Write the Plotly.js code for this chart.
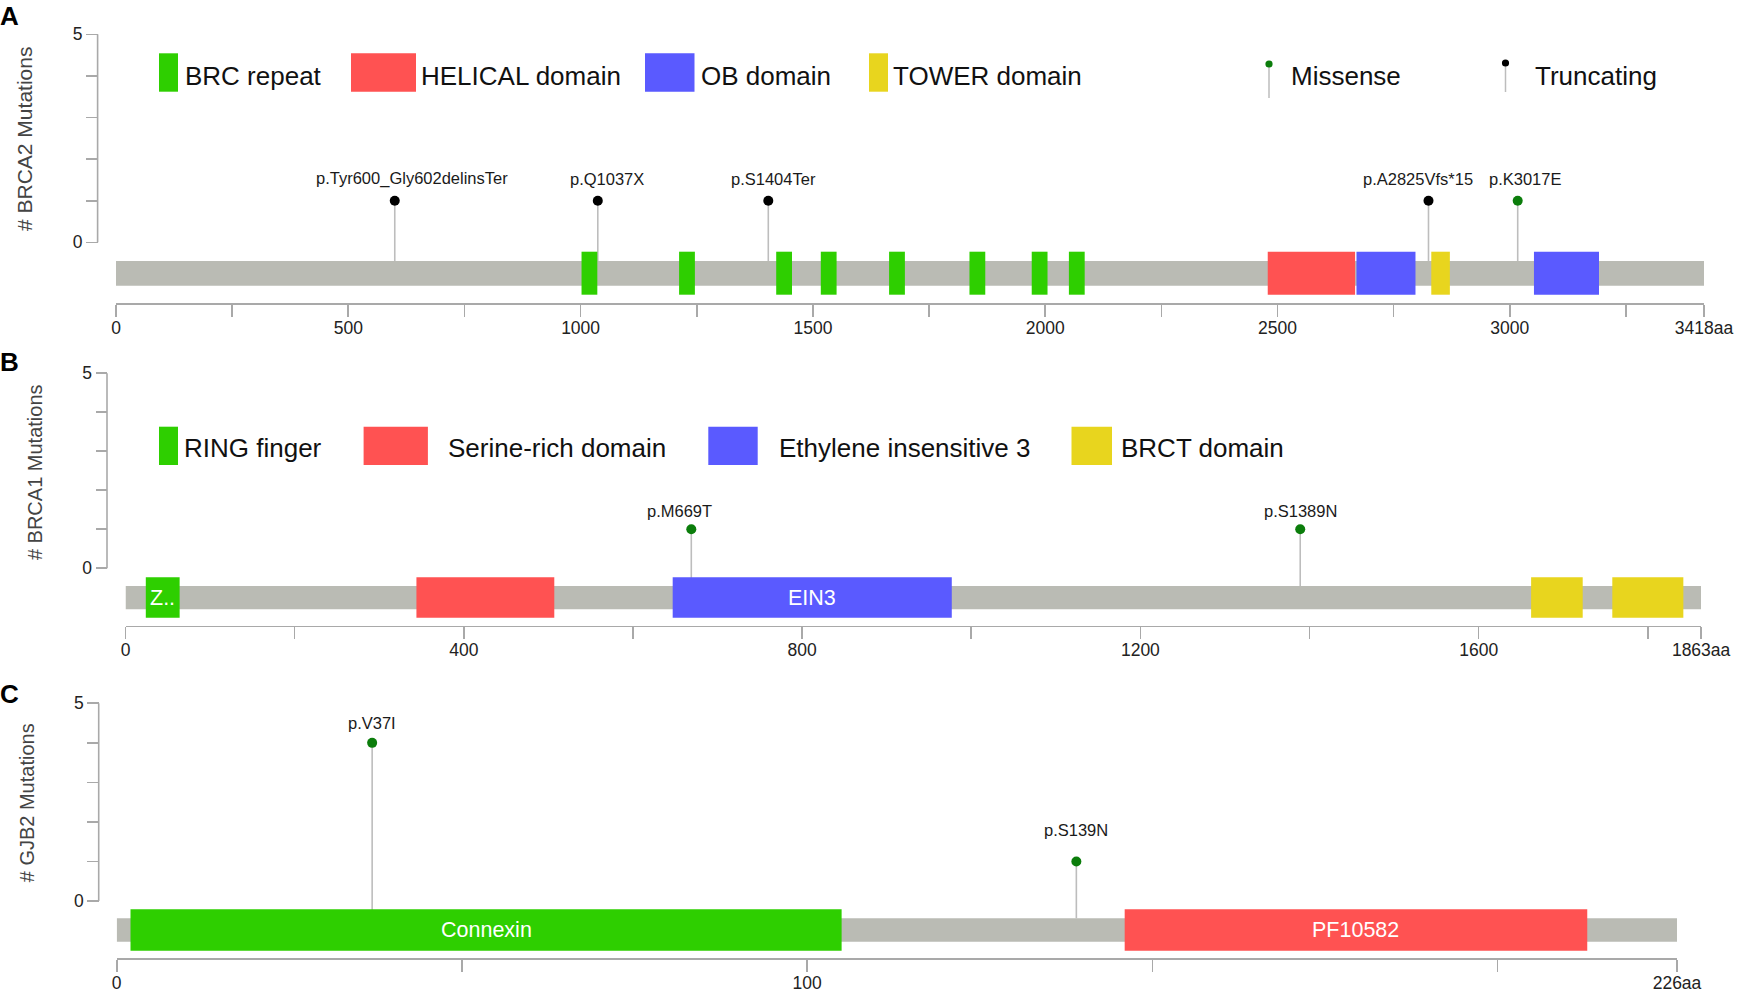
<!DOCTYPE html>
<html><head><meta charset="utf-8">
<script src="https://cdn.plot.ly/plotly-3.0.1.min.js"></script>
<style>html,body{margin:0;padding:0;background:#fff}#chart{width:1746px;height:997px}</style>
</head><body><div id="chart"></div>
<script>
// ================= DATA =================
// Panel A – BRCA2
const brca2Length = 3418;
const brca2DomainNames = ['BRC repeat','BRC repeat','BRC repeat','BRC repeat','BRC repeat','BRC repeat','BRC repeat','BRC repeat','HELICAL domain','OB domain','TOWER domain','OB domain'];
const brca2DomainStart = [1002,1212,1421,1517,1664,1837,1971,2051,2479,2670,2831,3052];
const brca2DomainEnd   = [1036,1246,1455,1551,1698,1871,2005,2085,2667,2797,2871,3192];
const brca2DomainText  = ['','','','','','','','','','','',''];
const brca2MutPos   = [600,1037,1404,2825,3017];
const brca2MutCount = [1,1,1,1,1];
const brca2MutLabel = ['p.Tyr600_Gly602delinsTer','p.Q1037X','p.S1404Ter','p.A2825Vfs*15','p.K3017E'];
const brca2MutType  = ['Truncating','Truncating','Truncating','Truncating','Missense'];
const brca2Legend   = ['BRC repeat','HELICAL domain','OB domain','TOWER domain'];
const brca2TickVals = [0,250,500,750,1000,1250,1500,1750,2000,2250,2500,2750,3000,3250,3418];
const brca2TickText = ['0','','500','','1000','','1500','','2000','','2500','','3000','','3418aa'];

// Panel B – BRCA1
const brca1Length = 1863;
const brca1DomainNames = ['RING finger','Serine-rich domain','Ethylene insensitive 3','BRCT domain','BRCT domain'];
const brca1DomainStart = [24,344,647,1662,1758];
const brca1DomainEnd   = [64,507,977,1723,1842];
const brca1DomainText  = ['Z..','','EIN3','',''];
const brca1MutPos   = [669,1389];
const brca1MutCount = [1,1];
const brca1MutLabel = ['p.M669T','p.S1389N'];
const brca1MutType  = ['Missense','Missense'];
const brca1Legend   = ['RING finger','Serine-rich domain','Ethylene insensitive 3','BRCT domain'];
const brca1TickVals = [0,200,400,600,800,1000,1200,1400,1600,1800,1863];
const brca1TickText = ['0','','400','','800','','1200','','1600','','1863aa'];

// Panel C – GJB2
const gjb2Length = 226;
const gjb2DomainNames = ['Connexin','PF10582'];
const gjb2DomainStart = [2,146];
const gjb2DomainEnd   = [105,213];
const gjb2DomainText  = ['Connexin','PF10582'];
const gjb2MutPos   = [37,139];
const gjb2MutCount = [4,1];
const gjb2MutLabel = ['p.V37I','p.S139N'];
const gjb2MutType  = ['Missense','Missense'];
const gjb2TickVals = [0,50,100,150,200,226];
const gjb2TickText = ['0','','100','','','226aa'];

const mutationTypes = ['Missense','Truncating'];
const countTickVals = [0,1,2,3,4,5];
const countTickText = ['0','','','','','5'];

// ================= STYLE / LAYOUT =================
const W = 1746, H = 997;
const FONT = '"Liberation Sans", Arial, Helvetica, sans-serif';
const domainColors = {
  'BRC repeat':'#2ecf00','HELICAL domain':'#ff5252','OB domain':'#5a5aff','TOWER domain':'#e8d51e',
  'RING finger':'#2ecf00','Serine-rich domain':'#ff5252','Ethylene insensitive 3':'#5a5aff','BRCT domain':'#e8d51e',
  'Connexin':'#2ecf00','PF10582':'#ff5252'
};
const typeColors = {Missense:'#0b7d0b', Truncating:'#000000'};
const AXIS_COL = '#a9a9a9';
const BACKBONE_COL = '#babbb4';
const STEM_COL = '#bdbdbd';
// label nudges in pixels (placement only)
const labelNudge = {
  'p.Tyr600_Gly602delinsTer':[17,2], 'p.Q1037X':[9,2], 'p.S1404Ter':[5,2],
  'p.A2825Vfs*15':[-10,2], 'p.K3017E':[7,2],
  'p.M669T':[-12,-2], 'p.S1389N':[0,-2],
  'p.V37I':[0,0], 'p.S139N':[0,11]
};

const panels = [
  {letter:'A', ytitle:'# BRCA2 Mutations', length:brca2Length, tv:brca2TickVals, tt:brca2TickText,
   dn:brca2DomainNames, ds:brca2DomainStart, de:brca2DomainEnd, dt:brca2DomainText,
   mp:brca2MutPos, mc:brca2MutCount, ml:brca2MutLabel, mt:brca2MutType, legend:brca2Legend,
   g:{y5:34.3, y0:242.3, top:28, bot:300, xl:116, xr:1704, xAxis:303.3, yAxis:97.6,
      bbT:261, bbB:285.7, dT:251.7, dB:294.7, letterY:16, titleX:25, titleY:139, titleSize:21},
   lg:{y0:53.3, y1:91.7, ty:76, items:[[159,178,183],[351,416,419],[645,694.5,699],[869,888,891]]}},
  {letter:'B', ytitle:'# BRCA1 Mutations', length:brca1Length, tv:brca1TickVals, tt:brca1TickText,
   dn:brca1DomainNames, ds:brca1DomainStart, de:brca1DomainEnd, dt:brca1DomainText,
   mp:brca1MutPos, mc:brca1MutCount, ml:brca1MutLabel, mt:brca1MutType, legend:brca1Legend,
   g:{y5:373.3, y0:568.3, top:367, bot:622, xl:125.5, xr:1701.1, xAxis:625.7, yAxis:107,
      bbT:586, bbB:609.3, dT:577.3, dB:617.7, letterY:362, titleX:34.4, titleY:471.7, titleSize:20},
   lg:{y0:426.7, y1:465, ty:448, items:[[159,178,182],[363.6,427.9,446],[708.3,757.7,777],[1071.5,1112,1119]]}},
  {letter:'C', ytitle:'# GJB2 Mutations', length:gjb2Length, tv:gjb2TickVals, tt:gjb2TickText,
   dn:gjb2DomainNames, ds:gjb2DomainStart, de:gjb2DomainEnd, dt:gjb2DomainText,
   mp:gjb2MutPos, mc:gjb2MutCount, ml:gjb2MutLabel, mt:gjb2MutType, legend:null,
   g:{y5:703.3, y0:901, top:697, bot:955, xl:116.7, xr:1677, xAxis:958.3, yAxis:98.7,
      bbT:918.3, bbB:941.7, dT:909.3, dB:950.7, letterY:694, titleX:26.8, titleY:802.5, titleSize:20},
   lg:null}
];

const mutLegend = {items:[{type:'Missense', x:1269, dotY:64, botY:98, tx:1289},
                          {type:'Truncating', x:1505.5, dotY:63, botY:92, tx:1533}], ty:76};

const px = x => x / W;
const py = y => 1 - y / H;

const data = [];
const shapes = [];
const annotations = [];
const layout = {
  width: W, height: H, autosize: false,
  margin: {l:0, r:0, t:0, b:0, pad:0},
  paper_bgcolor: '#fff', plot_bgcolor: 'rgba(0,0,0,0)',
  showlegend: false,
  font: {family: FONT, color: '#222'},
  hovermode: false
};

panels.forEach((p, i) => {
  const k = i + 1;
  const xr = k === 1 ? 'x' : 'x' + k;
  const yr = k === 1 ? 'y' : 'y' + k;
  const xKey = k === 1 ? 'xaxis' : 'xaxis' + k;
  const yKey = k === 1 ? 'yaxis' : 'yaxis' + k;
  const g = p.g;
  const unit = (g.y0 - g.y5) / 5;
  const v = pix => (g.y0 - pix) / unit;   // pixel row -> data value

  layout[xKey] = {
    domain: [px(g.xl), px(g.xr)], range: [0, p.length],
    anchor: 'free', position: py(g.xAxis),
    showline: true, linecolor: AXIS_COL, linewidth: 1.6,
    ticks: 'outside', ticklen: 12, tickwidth: 1.6, tickcolor: AXIS_COL,
    tickmode: 'array', tickvals: p.tv, ticktext: p.tt, ticklabelstandoff: -4,
    tickfont: {family: FONT, size: 17.5, color: '#222'},
    showgrid: false, zeroline: false, fixedrange: true
  };
  layout[yKey] = {
    domain: [py(g.bot), py(g.top)], range: [v(g.bot), v(g.top)],
    anchor: 'free', position: px(g.yAxis), side: 'left',
    showline: false, ticks: 'outside', ticklen: 11.5, tickwidth: 1.6, tickcolor: AXIS_COL,
    tickmode: 'array', tickvals: countTickVals, ticktext: countTickText,
    tickfont: {family: FONT, size: 17.5, color: '#222'},
    showgrid: false, zeroline: false, fixedrange: true
  };

  // y axis line from 0 to 5
  shapes.push({type:'line', xref:'paper', yref:yr, x0:px(g.yAxis), x1:px(g.yAxis),
               y0:countTickVals[0], y1:countTickVals[countTickVals.length - 1],
               line:{color:AXIS_COL, width:1.6}, layer:'below'});

  // protein backbone
  shapes.push({type:'rect', xref:xr, yref:yr, x0:0, x1:p.length, y0:v(g.bbB), y1:v(g.bbT),
               fillcolor:BACKBONE_COL, line:{width:0}, layer:'above'});
  // domains
  p.dn.forEach((name, j) => {
    shapes.push({type:'rect', xref:xr, yref:yr, x0:p.ds[j], x1:p.de[j], y0:v(g.dB), y1:v(g.dT),
                 fillcolor:domainColors[name], line:{width:0}, layer:'above'});
    if (p.dt[j]) {
      annotations.push({xref:xr, yref:yr, x:(p.ds[j] + p.de[j]) / 2, y:v((g.dT + g.dB) / 2),
        text:p.dt[j], showarrow:false, xanchor:'center', yanchor:'middle',
        font:{family:FONT, size:21.5, color:'#ffffff'}});
    }
  });

  // lollipop stems
  const sx = [], sy = [];
  p.mp.forEach((pos, j) => { sx.push(pos, pos, null); sy.push(v(g.bbT), p.mc[j], null); });
  data.push({type:'scatter', mode:'lines', x:sx, y:sy, xaxis:xr, yaxis:yr,
             line:{color:STEM_COL, width:1.6}, hoverinfo:'skip'});
  // lollipop heads by type
  mutationTypes.forEach(t => {
    const xs = [], ys = [];
    p.mp.forEach((pos, j) => { if (p.mt[j] === t) { xs.push(pos); ys.push(p.mc[j]); } });
    if (xs.length) data.push({type:'scatter', mode:'markers', x:xs, y:ys, xaxis:xr, yaxis:yr, name:t,
      marker:{color:typeColors[t], size:10, line:{width:0}}, hoverinfo:'skip'});
  });
  // lollipop labels
  p.mp.forEach((pos, j) => {
    const n = labelNudge[p.ml[j]] || [0, 0];
    annotations.push({xref:xr, yref:yr, x:pos, y:p.mc[j], text:p.ml[j], showarrow:false,
      xanchor:'center', yanchor:'bottom', yshift:9 + n[1], xshift:n[0],
      font:{family:FONT, size:16.5, color:'#1a1a1a'}});
  });

  // panel letter
  annotations.push({xref:'paper', yref:'paper', x:0, y:py(g.letterY), text:'<b>' + p.letter + '</b>',
    showarrow:false, xanchor:'left', yanchor:'middle', xshift:-2,
    font:{family:FONT, size:26, color:'#000'}});
  // y title
  annotations.push({xref:'paper', yref:'paper', x:px(g.titleX), y:py(g.titleY), text:p.ytitle,
    showarrow:false, textangle:-90, xanchor:'center', yanchor:'middle',
    font:{family:FONT, size:g.titleSize, color:'#444'}});

  // domain legend
  if (p.legend) {
    p.legend.forEach((name, j) => {
      const it = p.lg.items[j];
      shapes.push({type:'rect', xref:'paper', yref:'paper', x0:px(it[0]), x1:px(it[1]),
        y0:py(p.lg.y1), y1:py(p.lg.y0), fillcolor:domainColors[name], line:{width:0}});
      annotations.push({xref:'paper', yref:'paper', x:px(it[2]), y:py(p.lg.ty), text:name,
        showarrow:false, xanchor:'left', yanchor:'middle',
        font:{family:FONT, size:26, color:'#111'}});
    });
  }
});

// mutation type legend (panel A)
mutLegend.items.forEach(it => {
  shapes.push({type:'line', xref:'paper', yref:'paper', x0:px(it.x), x1:px(it.x),
    y0:py(it.dotY), y1:py(it.botY), line:{color:STEM_COL, width:1.5}});
  shapes.push({type:'circle', xref:'paper', yref:'paper', xsizemode:'pixel', ysizemode:'pixel',
    xanchor:px(it.x), yanchor:py(it.dotY), x0:-3.6, x1:3.6, y0:-3.6, y1:3.6,
    fillcolor:typeColors[it.type], line:{width:0}});
  annotations.push({xref:'paper', yref:'paper', x:px(it.tx), y:py(mutLegend.ty), text:it.type,
    showarrow:false, xanchor:'left', yanchor:'middle',
    font:{family:FONT, size:26, color:'#111'}});
});

layout.shapes = shapes;
layout.annotations = annotations;

Plotly.newPlot('chart', data, layout, {staticPlot:true, displayModeBar:false});
</script>
</body></html>
